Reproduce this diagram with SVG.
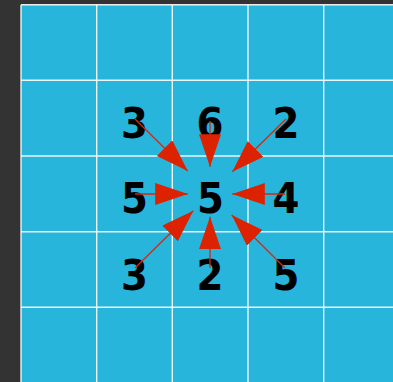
<svg xmlns="http://www.w3.org/2000/svg" width="393" height="382" viewBox="0 0 393 382">
<style>
.grid{stroke:#ffffff;stroke-width:1.4;opacity:0.9}
.num{font-family:"DejaVu Sans",sans-serif;font-weight:bold;font-size:43px;fill:#000;text-anchor:middle;font-stretch:condensed}
.conn{stroke:#d42a10;stroke-width:1.3;fill:none}
</style>
<defs>
<marker id="ah" markerUnits="userSpaceOnUse" markerWidth="34" markerHeight="24" refX="32.5" refY="11" orient="auto">
<path d="M0,0 L32.5,11 L0,22 Z" fill="#dd2200"/>
</marker>
</defs>
<rect x="0" y="0" width="393" height="382" fill="#333333"/>
<rect x="21" y="5" width="372" height="377" fill="#27b5dc"/>
<g id="grid" class="grid">
<line x1="21" y1="4.7" x2="21" y2="382"/>
<line x1="96.7" y1="4.7" x2="96.7" y2="382"/>
<line x1="172.3" y1="4.7" x2="172.3" y2="382"/>
<line x1="248" y1="4.7" x2="248" y2="382"/>
<line x1="323.7" y1="4.7" x2="323.7" y2="382"/>
<line x1="21" y1="4.7" x2="393" y2="4.7"/>
<line x1="21" y1="80.3" x2="393" y2="80.3"/>
<line x1="21" y1="156" x2="393" y2="156"/>
<line x1="21" y1="231.7" x2="393" y2="231.7"/>
<line x1="21" y1="307.3" x2="393" y2="307.3"/>
</g>
<g id="n-nw"><text class="num" x="134.5" y="138">3</text></g>
<g id="n-n"><text class="num" x="210" y="138">6</text></g>
<g id="n-ne"><text class="num" x="286" y="138">2</text></g>
<g id="n-w"><text class="num" x="134.5" y="213.3">5</text></g>
<g id="n-c"><text class="num" x="210.5" y="213.3">5</text></g>
<g id="n-e"><text class="num" x="286" y="213.3">4</text></g>
<g id="n-sw"><text class="num" x="134.5" y="290">3</text></g>
<g id="n-s"><text class="num" x="210" y="290">2</text></g>
<g id="n-se"><text class="num" x="286" y="290">5</text></g>
<g id="connectors" class="conn" marker-end="url(#ah)">
<line x1="135" y1="119" x2="187.7" y2="171"/>
<line x1="210" y1="121" x2="210" y2="166.7"/>
<line x1="286" y1="119" x2="232.3" y2="171.7"/>
<line x1="135" y1="194" x2="187.7" y2="194"/>
<line x1="285" y1="194" x2="232.3" y2="194"/>
<line x1="135" y1="268" x2="193.3" y2="210.7"/>
<line x1="210" y1="268" x2="210" y2="216.7"/>
<line x1="285" y1="268" x2="231.7" y2="215"/>
</g>
</svg>
